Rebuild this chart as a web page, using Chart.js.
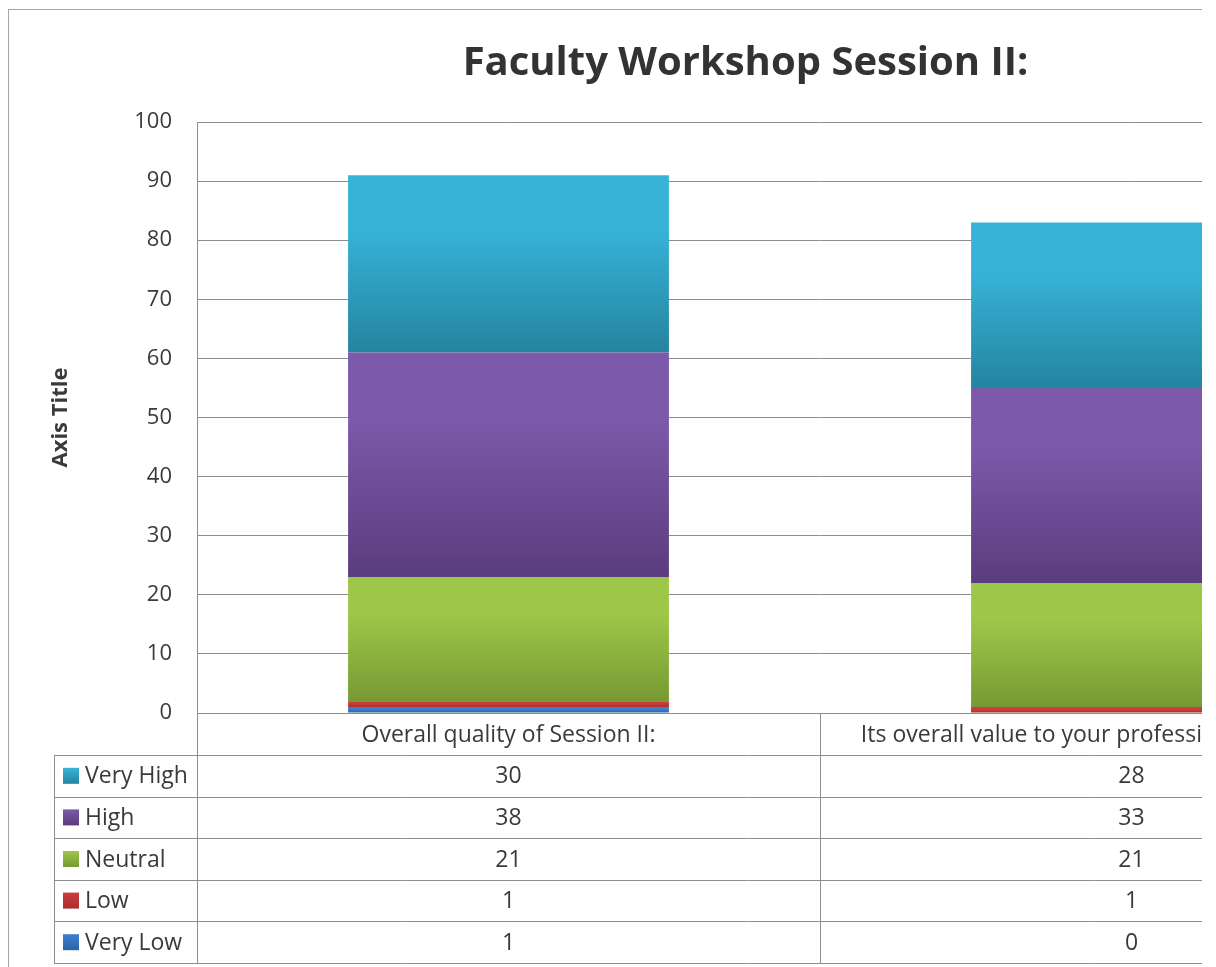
<!DOCTYPE html>
<html>
<head>
<meta charset="utf-8">
<script src="https://cdn.jsdelivr.net/npm/chart.js@4/dist/chart.umd.min.js"></script>
<style>
  html, body { margin: 0; padding: 0; background: #fff; overflow: hidden; }
  #wrap { position: relative; width: 1202px; height: 967px; overflow: hidden; }
  #wrap canvas { position: absolute; left: 0; top: 0; }
</style>
</head>
<body>
<div id="wrap"><canvas id="chart" width="1484" height="967"></canvas></div>
<script>
const categories = ["Overall quality of Session II:", "Its overall value to your professional development:"];
const seriesNames = ["Very Low", "Low", "Neutral", "High", "Very High"];
const veryLow = [1, 0];
const low = [1, 1];
const neutral = [21, 21];
const high = [38, 33];
const veryHigh = [30, 28];
const yTicks = [0, 10, 20, 30, 40, 50, 60, 70, 80, 90, 100];

// top / bottom colours of each gradient
const fills = [
    ["#3f7fcf", "#2d62a6"],
    ["#cd3d3c", "#a92f2f"],
    ["#9dc748", "#779933"],
    ["#7c59aa", "#5a3d7d"],
    ["#37b3d8", "#24849f"]
];

const FONT = "'Open Sans', sans-serif";
const TEXT = "#3a3a3a";
const LINE = "#8e8e8e";

function segmentFill(i) {
    return (c) => {
        const chart = c.chart;
        const y = chart.scales.y;
        if (!y || c.type !== "data") return fills[i][1];
        let base = 0;
        for (let d = 0; d < c.datasetIndex; d++) base += chart.data.datasets[d].data[c.dataIndex];
        const v = chart.data.datasets[c.datasetIndex].data[c.dataIndex];
        const y0 = y.getPixelForValue(base), y1 = y.getPixelForValue(base + v);
        if (!isFinite(y0) || !isFinite(y1) || y0 === y1) return fills[i][1];
        const g = chart.ctx.createLinearGradient(0, y1, 0, y0);
        g.addColorStop(0, fills[i][0]);
        g.addColorStop(0.3, fills[i][0]);
        g.addColorStop(1, fills[i][1]);
        return g;
    };
}

const seriesData = [veryLow, low, neutral, high, veryHigh];

// data table under the plot + outer border
const tablePlugin = {
    id: "dataTable",
    afterDraw(chart) {
        const { ctx, chartArea: area, scales: { x } } = chart;
        const colW = x.width / categories.length;
        const headTop = area.bottom, headH = 42, rowH = 41.6;
        const tableLeft = 54;
        const tableBottom = headTop + headH + rowH * seriesNames.length;

        ctx.save();
        ctx.strokeStyle = LINE;
        ctx.lineWidth = 1;
        ctx.beginPath();
        for (let r = 0; r <= seriesNames.length; r++) {
            const yy = Math.round(headTop + headH + r * rowH) + 0.5;
            ctx.moveTo(tableLeft, yy);
            ctx.lineTo(area.right, yy);
        }
        ctx.moveTo(tableLeft + 0.5, headTop + headH);
        ctx.lineTo(tableLeft + 0.5, tableBottom);
        for (let c = 0; c <= categories.length; c++) {
            const xx = Math.round(area.left + c * colW) + 0.5;
            ctx.moveTo(xx, headTop);
            ctx.lineTo(xx, tableBottom);
        }
        ctx.stroke();

        ctx.fillStyle = TEXT;
        ctx.font = "23px " + FONT;
        ctx.textBaseline = "middle";
        ctx.textAlign = "center";
        categories.forEach((cat, i) => {
            ctx.fillText(cat, x.getPixelForValue(i), headTop + headH / 2 + 1);
        });

        // rows listed from top series down
        for (let r = 0; r < seriesNames.length; r++) {
            const s = seriesNames.length - 1 - r;
            const cy = headTop + headH + r * rowH + rowH / 2;
            const g = ctx.createLinearGradient(0, cy - 8, 0, cy + 8);
            g.addColorStop(0, fills[s][0]);
            g.addColorStop(1, fills[s][1]);
            ctx.fillStyle = g;
            ctx.fillRect(63, cy - 8, 16, 16);
            ctx.fillStyle = TEXT;
            ctx.textAlign = "left";
            ctx.fillText(seriesNames[s], 85, cy + 1);
            ctx.textAlign = "center";
            seriesData[s].forEach((v, i) => {
                ctx.fillText(String(v), x.getPixelForValue(i), cy + 1);
            });
        }

        ctx.strokeStyle = "#a6a6a6";
        ctx.strokeRect(8.5, 9.5, chart.width - 17, chart.height + 20);
        ctx.restore();
    }
};

const ctx = document.getElementById("chart").getContext("2d");
new Chart(ctx, {
    type: "bar",
    data: {
        labels: categories,
        datasets: seriesNames.map((name, i) => ({
            label: name,
            data: seriesData[i],
            backgroundColor: segmentFill(i),
            borderWidth: 0,
            categoryPercentage: 1,
            barPercentage: 0.515
        }))
    },
    options: {
        responsive: false,
        animation: false,
        layout: { padding: { left: 48, right: 41, top: 0, bottom: 4 } },
        plugins: {
            legend: { display: false },
            tooltip: { enabled: false },
            title: {
                display: true,
                text: "Faculty Workshop Session II:",
                color: "#333",
                font: { family: FONT, size: 40, weight: "bold" },
                padding: { top: 40, bottom: 34 }
            }
        },
        scales: {
            x: {
                stacked: true,
                grid: { display: false },
                border: { display: true, color: LINE },
                ticks: { display: false },
                afterFit: (s) => { s.height = 250; }
            },
            y: {
                stacked: true,
                min: 0,
                max: 100,
                afterBuildTicks: (s) => { s.ticks = yTicks.map(v => ({ value: v })); },
                ticks: { color: TEXT, font: { family: FONT, size: 22 }, padding: 25 },
                grid: { color: LINE, drawTicks: false },
                border: { display: true, color: LINE },
                title: {
                    display: true,
                    text: "Axis Title",
                    color: TEXT,
                    font: { family: FONT, size: 22, weight: "bold" },
                    padding: 0
                },
                afterFit: (s) => { s.width = 149; }
            }
        }
    },
    plugins: [tablePlugin]
});
</script>
</body>
</html>
